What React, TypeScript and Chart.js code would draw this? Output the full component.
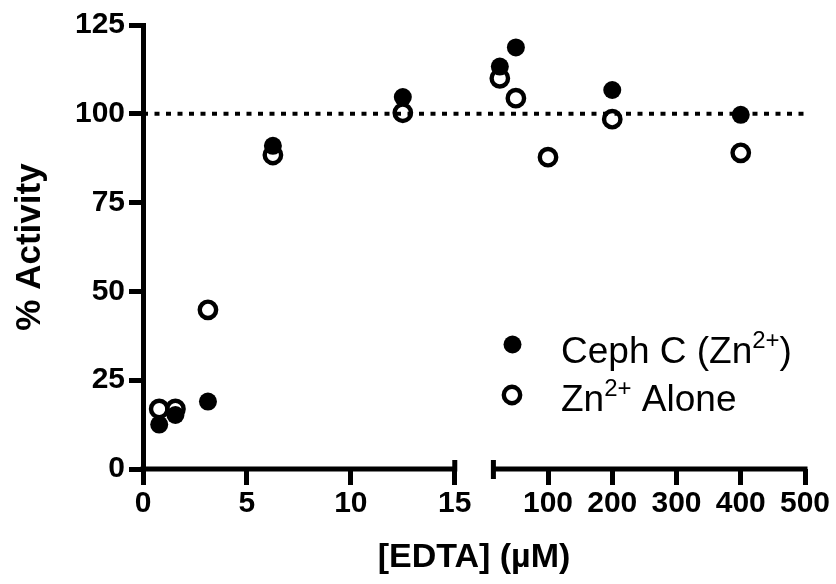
import React, { useEffect, useRef } from 'react';
import { Chart, registerables } from 'chart.js';

Chart.register(...registerables);

// ---- data ----
const edta = [0.78, 1.56, 3.125, 6.25, 12.5, 25, 50, 100, 200, 400];
const cephC: (number | null)[] = [12.5, 15.2, 19, 91, 104.7, 113.3, 118.7, null, 106.7, 99.7];
const znAlone: (number | null)[] = [16.9, 16.9, 44.8, 88.4, 100.3, 110, 104.4, 87.8, 98.5, 89];
const xTickValues = [0, 5, 10, 15, 100, 200, 300, 400, 500];
const xTickLabels = ['0', '5', '10', '15', '100', '200', '300', '400', '500'];
const yTickValues = [0, 25, 50, 75, 100, 125];
const referenceLevel = 100;
const seriesNames = ['Ceph C (Zn\u00B2\u207A)', 'Zn\u00B2\u207A Alone'];
const legendParts = [
  ['Ceph C (Zn', '2+', ')'],
  ['Zn', '2+', ' Alone'],
];
const xTitle = '[EDTA] (\u00B5M)';
const yTitle = '% Activity';

// ---- broken axis mapping (layout constants) ----
const BREAK_AT = 15;
const GAP = 1.858;
const K = 0.03091;
const X_END = 500;
const toAxis = (x: number) => (x <= BREAK_AT ? x : BREAK_AT + GAP + (x - BREAK_AT) * K);
const X_MAX = toAxis(X_END);

const FAMILY = '"Liberation Sans", Arial, Helvetica, sans-serif';

const FILLED_R = 9;
const OPEN_R = 8.2;
const OPEN_W = 4.4;

const pts = (ys: (number | null)[]) =>
  edta
    .map((x, i) => ({ x: toAxis(x), y: ys[i] }))
    .filter((p) => p.y !== null) as { x: number; y: number }[];

const breakAxisPlugin = {
  id: 'breakAxis',
  beforeDatasetsDraw(chart: any) {
    const { ctx, chartArea } = chart;
    const xs = chart.scales.x;
    const y0 = chartArea.bottom;
    const leftEnd = xs.getPixelForValue(BREAK_AT);
    const rightStart = xs.getPixelForValue(BREAK_AT + GAP);
    ctx.save();
    ctx.strokeStyle = '#000';
    ctx.lineWidth = 5;
    ctx.lineCap = 'butt';
    ctx.beginPath();
    ctx.moveTo(chartArea.left - 2.5, y0);
    ctx.lineTo(leftEnd + 2.5, y0);
    ctx.moveTo(rightStart - 2.5, y0);
    ctx.lineTo(chartArea.right + 2.5, y0);
    // break markers
    ctx.moveTo(leftEnd, y0 - 9);
    ctx.lineTo(leftEnd, y0);
    ctx.moveTo(rightStart, y0 - 9);
    ctx.lineTo(rightStart, y0 + 10);
    ctx.stroke();
    ctx.restore();
  },
  afterDraw(chart: any) {
    const { ctx } = chart;
    ctx.save();
    // legend markers
    ctx.fillStyle = '#000';
    ctx.beginPath();
    ctx.arc(512.5, 344.5, FILLED_R, 0, Math.PI * 2);
    ctx.fill();
    ctx.strokeStyle = '#000';
    ctx.lineWidth = OPEN_W;
    ctx.beginPath();
    ctx.arc(512, 395, OPEN_R, 0, Math.PI * 2);
    ctx.stroke();
    // legend text with superscripts
    const size = 37;
    const baselines = [363, 411];
    legendParts.forEach((parts, li) => {
      let x = 561;
      parts.forEach((p, i) => {
        const sup = i === 1;
        ctx.font = `${sup ? Math.round(size * 0.64) : size}px ${FAMILY}`;
        ctx.textBaseline = 'alphabetic';
        ctx.textAlign = 'left';
        ctx.fillText(p, x, sup ? baselines[li] - size * 0.4 : baselines[li]);
        x += ctx.measureText(p).width;
      });
    });
    ctx.restore();
  },
};

export default function App() {
  const ref = useRef<HTMLCanvasElement>(null);
  useEffect(() => {
    const chart = new Chart(ref.current as HTMLCanvasElement, {
      type: 'scatter',
      data: {
        datasets: [
          {
            label: seriesNames[1],
            data: pts(znAlone),
            pointRadius: OPEN_R,
            pointHoverRadius: OPEN_R,
            pointBorderWidth: OPEN_W,
            borderColor: '#000',
            backgroundColor: 'rgba(0,0,0,0)',
            order: 1,
            clip: false,
          } as any,
          {
            label: seriesNames[0],
            data: pts(cephC),
            pointRadius: FILLED_R,
            pointHoverRadius: FILLED_R,
            pointBorderWidth: 0,
            borderColor: '#000',
            backgroundColor: '#000',
            order: 2,
            clip: false,
          } as any,
          {
            label: 'reference',
            type: 'line',
            data: [
              { x: toAxis(0), y: referenceLevel },
              { x: toAxis(X_END), y: referenceLevel },
            ],
            showLine: true,
            borderColor: '#000',
            borderWidth: 4,
            borderDash: [5, 6.5],
            pointRadius: 0,
            order: 3,
            clip: false,
          } as any,
        ],
      },
      options: {
        responsive: false,
        animation: false,
        events: [],
        layout: { padding: { top: 25, right: 31, left: 0, bottom: 0 } },
        plugins: { legend: { display: false }, tooltip: { enabled: false } },
        scales: {
          x: {
            type: 'linear',
            min: 0,
            max: X_MAX,
            afterBuildTicks: (s: any) => {
              s.ticks = xTickValues.map((v) => ({ value: toAxis(v) }));
            },
            afterFit: (s: any) => {
              s.height = 115;
              s.paddingLeft = 0;
              s.paddingRight = 0;
            },
            ticks: {
              autoSkip: false,
              maxRotation: 0,
              minRotation: 0,
              callback: (_v: any, i: number) => xTickLabels[i],
              font: { family: FAMILY, size: 30, weight: 'bold' },
              color: '#000',
              padding: 1,
            },
            grid: {
              display: true,
              drawOnChartArea: false,
              drawTicks: true,
              tickLength: 16,
              lineWidth: 5,
              color: '#000',
            },
            border: { display: false },
            title: {
              display: true,
              text: xTitle,
              color: '#000',
              font: { family: FAMILY, size: 34, weight: 'bold', lineHeight: 1 },
              padding: { top: 0, bottom: 9 },
            },
          },
          y: {
            type: 'linear',
            min: 0,
            max: 125,
            afterBuildTicks: (s: any) => {
              s.ticks = yTickValues.map((v) => ({ value: v }));
            },
            afterFit: (s: any) => {
              s.width = 143;
              s.paddingTop = 0;
              s.paddingBottom = 0;
            },
            ticks: {
              autoSkip: false,
              font: { family: FAMILY, size: 30, weight: 'bold' },
              color: '#000',
              padding: 4,
            },
            grid: {
              display: true,
              drawOnChartArea: false,
              drawTicks: true,
              tickLength: 14,
              lineWidth: 5,
              color: '#000',
            },
            border: { display: true, width: 5, color: '#000' },
            title: {
              display: true,
              text: yTitle,
              color: '#000',
              font: { family: FAMILY, size: 35, weight: 'bold', lineHeight: 1 },
              padding: { top: 13, bottom: 0 },
            },
          },
        },
      } as any,
      plugins: [breakAxisPlugin],
    });
    return () => chart.destroy();
  }, []);
  return (
    <div style={{ position: 'absolute', left: 0, top: 0, width: 836, height: 584, background: '#fff' }}>
      <canvas ref={ref} width={836} height={584} style={{ display: 'block', width: 836, height: 584 }} />
    </div>
  );
}
